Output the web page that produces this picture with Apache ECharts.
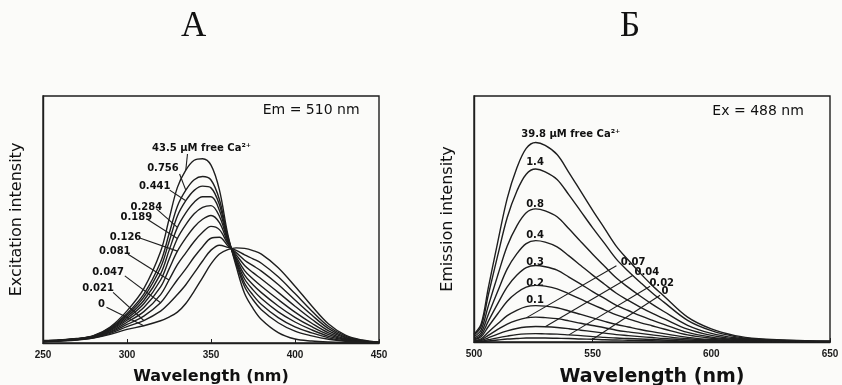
<!DOCTYPE html>
<html>
<head>
<meta charset="utf-8">
<script src="https://cdn.jsdelivr.net/npm/echarts@6/dist/echarts.min.js"></script>
<style>
  html, body { margin: 0; padding: 0; background: #fbfbf9; }
  #main { width: 842px; height: 385px; }
</style>
</head>
<body>
<div id="main"></div>
<script>
// A: excitation spectra (Em = 510 nm)
var exWavelength = [250, 260, 270, 280, 290, 300, 310, 320, 325, 330, 335, 340, 345, 350, 355, 360, 365, 370, 375, 380, 390, 400, 410, 420, 430, 440, 450];
var ex0    = [0.005, 0.008, 0.012, 0.020, 0.035, 0.055, 0.070, 0.090, 0.105, 0.125, 0.160, 0.210, 0.265, 0.320, 0.360, 0.378, 0.385, 0.383, 0.374, 0.360, 0.305, 0.230, 0.150, 0.077, 0.032, 0.012, 0.003];
var ex0021 = [0.006, 0.009, 0.013, 0.021, 0.039, 0.066, 0.091, 0.129, 0.160, 0.196, 0.236, 0.284, 0.332, 0.376, 0.396, 0.387, 0.375, 0.357, 0.341, 0.323, 0.268, 0.200, 0.130, 0.067, 0.028, 0.010, 0.003];
var ex0047 = [0.006, 0.009, 0.014, 0.023, 0.043, 0.075, 0.109, 0.163, 0.208, 0.256, 0.300, 0.348, 0.390, 0.424, 0.428, 0.394, 0.366, 0.335, 0.313, 0.291, 0.237, 0.174, 0.113, 0.058, 0.024, 0.009, 0.002];
var ex0081 = [0.007, 0.010, 0.014, 0.024, 0.046, 0.084, 0.127, 0.196, 0.255, 0.317, 0.365, 0.411, 0.448, 0.472, 0.459, 0.402, 0.357, 0.314, 0.285, 0.259, 0.205, 0.149, 0.096, 0.049, 0.021, 0.008, 0.002];
var ex0126 = [0.007, 0.010, 0.015, 0.025, 0.050, 0.092, 0.144, 0.227, 0.299, 0.372, 0.425, 0.470, 0.501, 0.516, 0.487, 0.408, 0.348, 0.293, 0.259, 0.230, 0.176, 0.125, 0.080, 0.041, 0.017, 0.007, 0.002];
var ex0189 = [0.008, 0.010, 0.016, 0.026, 0.053, 0.099, 0.159, 0.255, 0.338, 0.423, 0.479, 0.523, 0.549, 0.556, 0.513, 0.415, 0.341, 0.275, 0.236, 0.204, 0.150, 0.104, 0.066, 0.034, 0.014, 0.006, 0.001];
var ex0284 = [0.008, 0.011, 0.016, 0.027, 0.055, 0.106, 0.172, 0.280, 0.374, 0.468, 0.527, 0.570, 0.592, 0.592, 0.537, 0.420, 0.334, 0.259, 0.215, 0.180, 0.126, 0.085, 0.053, 0.027, 0.012, 0.005, 0.001];
var ex0441 = [0.009, 0.011, 0.017, 0.028, 0.058, 0.113, 0.186, 0.306, 0.409, 0.514, 0.576, 0.618, 0.635, 0.628, 0.560, 0.426, 0.327, 0.242, 0.194, 0.156, 0.103, 0.065, 0.041, 0.021, 0.009, 0.004, 0.001];
var ex0756 = [0.009, 0.011, 0.017, 0.029, 0.061, 0.119, 0.198, 0.328, 0.441, 0.554, 0.619, 0.661, 0.674, 0.660, 0.581, 0.431, 0.321, 0.228, 0.175, 0.135, 0.082, 0.048, 0.029, 0.015, 0.007, 0.003, 0.001];
var ex435  = [0.010, 0.012, 0.018, 0.030, 0.065, 0.130, 0.220, 0.370, 0.500, 0.630, 0.700, 0.740, 0.746, 0.720, 0.620, 0.440, 0.310, 0.200, 0.140, 0.095, 0.042, 0.016, 0.008, 0.004, 0.002, 0.001, 0.000];

// Б: emission spectra (Ex = 488 nm)
var emWavelength = [500, 503, 506, 510, 514, 518, 522, 526, 530, 535, 540, 545, 550, 555, 560, 565, 570, 575, 580, 590, 600, 610, 620, 630, 640, 650];
var em0    = [0.001, 0.001, 0.004, 0.008, 0.012, 0.014, 0.016, 0.016, 0.016, 0.015, 0.014, 0.012, 0.011, 0.009, 0.008, 0.007, 0.006, 0.005, 0.004, 0.002, 0.001, 0.001, 0, 0, 0, 0];
var em002  = [0.001, 0.003, 0.009, 0.017, 0.024, 0.030, 0.033, 0.034, 0.033, 0.032, 0.029, 0.026, 0.022, 0.019, 0.016, 0.014, 0.012, 0.010, 0.008, 0.004, 0.002, 0.001, 0.001, 0, 0, 0];
var em004  = [0.003, 0.006, 0.017, 0.032, 0.045, 0.055, 0.061, 0.063, 0.062, 0.059, 0.054, 0.048, 0.042, 0.036, 0.030, 0.026, 0.022, 0.018, 0.014, 0.008, 0.004, 0.002, 0.001, 0.001, 0, 0];
var em007  = [0.004, 0.009, 0.027, 0.051, 0.073, 0.088, 0.098, 0.101, 0.099, 0.095, 0.086, 0.076, 0.067, 0.058, 0.048, 0.041, 0.035, 0.029, 0.023, 0.013, 0.007, 0.003, 0.002, 0.001, 0.001, 0];
var em01   = [0.006, 0.013, 0.040, 0.074, 0.107, 0.129, 0.144, 0.148, 0.146, 0.139, 0.126, 0.112, 0.098, 0.084, 0.071, 0.061, 0.051, 0.042, 0.034, 0.019, 0.010, 0.005, 0.002, 0.001, 0.001, 0.001];
var em02   = [0.009, 0.021, 0.062, 0.115, 0.166, 0.200, 0.223, 0.230, 0.227, 0.216, 0.196, 0.174, 0.152, 0.131, 0.110, 0.094, 0.079, 0.066, 0.053, 0.029, 0.015, 0.007, 0.004, 0.002, 0.001, 0.001];
var em03   = [0.012, 0.028, 0.084, 0.156, 0.224, 0.271, 0.302, 0.311, 0.306, 0.292, 0.264, 0.235, 0.205, 0.177, 0.149, 0.128, 0.107, 0.089, 0.072, 0.039, 0.020, 0.010, 0.005, 0.003, 0.002, 0.001];
var em04   = [0.016, 0.037, 0.111, 0.206, 0.297, 0.358, 0.400, 0.412, 0.406, 0.387, 0.350, 0.311, 0.272, 0.235, 0.198, 0.169, 0.142, 0.117, 0.095, 0.052, 0.027, 0.013, 0.007, 0.004, 0.002, 0.002];
var em08   = [0.022, 0.049, 0.146, 0.271, 0.390, 0.471, 0.525, 0.541, 0.533, 0.509, 0.460, 0.408, 0.357, 0.308, 0.260, 0.222, 0.187, 0.154, 0.124, 0.068, 0.035, 0.017, 0.009, 0.005, 0.003, 0.002];
var em14   = [0.028, 0.063, 0.190, 0.352, 0.506, 0.612, 0.682, 0.703, 0.692, 0.661, 0.598, 0.531, 0.464, 0.401, 0.337, 0.288, 0.243, 0.200, 0.162, 0.088, 0.046, 0.022, 0.011, 0.007, 0.004, 0.003];
var em398  = [0.032, 0.073, 0.219, 0.406, 0.584, 0.706, 0.787, 0.811, 0.799, 0.762, 0.689, 0.612, 0.535, 0.462, 0.389, 0.333, 0.280, 0.231, 0.187, 0.101, 0.053, 0.026, 0.013, 0.008, 0.005, 0.003];

var exCurves = [ex0, ex0021, ex0047, ex0081, ex0126, ex0189, ex0284, ex0441, ex0756, ex435];
var emCurves = [em0, em002, em004, em007, em01, em02, em03, em04, em08, em14, em398];

// curve labels: text, label centre (nm, value)
var exLabels = [
  ['43.5 µM free Ca²⁺', 344.4, 0.788], ['0.756', 321.4, 0.708], ['0.441', 316.5, 0.635],
  ['0.284', 311.5, 0.547], ['0.189', 305.6, 0.510], ['0.126', 299.1, 0.427],
  ['0.081', 292.7, 0.372], ['0.047', 288.8, 0.285], ['0.021', 282.8, 0.221], ['0', 284.8, 0.155]
];
var emLabels = [
  ['39.8 µM free Ca²⁺', 540.8, 0.845], ['1.4', 525.7, 0.730], ['0.8', 525.7, 0.561],
  ['0.4', 525.7, 0.433], ['0.3', 525.7, 0.325], ['0.2', 525.7, 0.240], ['0.1', 525.7, 0.170],
  ['0.07', 567, 0.325], ['0.04', 572.8, 0.281], ['0.02', 579.1, 0.238], ['0', 580.5, 0.204]
];
// leaders: curve, wavelength where the leader meets it, leader start (nm, value)
var exLeaders = [
  [ex435, 335, 336, 0.765], [ex0756, 335, 331.3, 0.684], [ex0441, 335, 325.4, 0.619],
  [ex0284, 330, 317.5, 0.543], [ex0189, 330, 312.5, 0.499], [ex0126, 330, 307.6, 0.425],
  [ex0081, 325, 300.6, 0.359], [ex0047, 320, 298.7, 0.272], [ex0021, 310, 291.7, 0.205],
  [ex0, 310, 287.8, 0.145]
];
var emLeaders = [
  [em007, 522, 560, 0.31], [em004, 530, 567, 0.271], [em002, 540, 574.2, 0.227], [em0, 550, 578.4, 0.19]
];

var ink = '#1e1e1e';
var chart = echarts.init(document.getElementById('main'));

function pairs(xs, ys) {
  return xs.map(function (x, i) { return [x, ys[i]]; });
}

function curveSeries(xs, curves, idx) {
  return curves.map(function (ys) {
    return {
      type: 'line', xAxisIndex: idx, yAxisIndex: idx,
      data: pairs(xs, ys), smooth: 0.35, symbol: 'none', silent: true,
      lineStyle: { color: ink, width: 1.4 }
    };
  });
}

function leaderSeries(xs, leaders, idx) {
  return {
    type: 'lines', coordinateSystem: 'cartesian2d', xAxisIndex: idx, yAxisIndex: idx,
    silent: true, lineStyle: { color: ink, width: 1.1, opacity: 1 },
    data: leaders.map(function (l) {
      return { coords: [[l[2], l[3]], [l[1], l[0][xs.indexOf(l[1])]]] };
    })
  };
}

function labelSeries(labels, idx, size) {
  return {
    type: 'scatter', xAxisIndex: idx, yAxisIndex: idx, silent: true,
    symbolSize: 1, itemStyle: { color: 'rgba(0,0,0,0)', opacity: 1 },
    data: labels,
    label: {
      show: true, position: 'inside', formatter: function (p) { return p.data[0]; },
      color: '#111', opacity: 1, fontFamily: 'DejaVu Sans', fontWeight: 'bold', fontSize: size
    },
    encode: { x: 1, y: 2 }
  };
}

function noteSeries(text, x, y, idx) {
  return {
    type: 'scatter', xAxisIndex: idx, yAxisIndex: idx, silent: true,
    symbolSize: 1, itemStyle: { color: 'rgba(0,0,0,0)', opacity: 1 },
    data: [[x, y]],
    label: { show: true, position: 'inside', formatter: text, color: '#111', opacity: 1, fontFamily: 'DejaVu Sans', fontSize: 14 }
  };
}

function xAxisFor(idx, min, max, nameSize, gap) {
  return {
    type: 'value', gridIndex: idx, min: min, max: max, interval: 50,
    name: 'Wavelength (nm)', nameLocation: 'middle', nameGap: gap,
    nameTextStyle: { fontFamily: 'DejaVu Sans', fontWeight: 'bold', fontSize: nameSize, color: '#111' },
    axisLine: { show: true, lineStyle: { color: ink, width: 1.4 } },
    axisTick: { show: true, inside: true, length: 4, lineStyle: { color: ink } },
    axisLabel: { margin: 7, fontFamily: 'Liberation Sans', fontWeight: 'bold', fontSize: 10, color: '#1a1a1a' },
    splitLine: { show: false }
  };
}

function yAxisFor(idx, name) {
  return {
    type: 'value', gridIndex: idx, min: 0, max: 1,
    name: name, nameLocation: 'middle', nameGap: 18,
    nameTextStyle: { fontFamily: 'DejaVu Sans', fontSize: 16, color: '#111' },
    axisLine: { show: true, lineStyle: { color: ink, width: 1.4 } },
    axisTick: { show: false }, axisLabel: { show: false }, splitLine: { show: false }
  };
}

var option = {
  backgroundColor: '#fbfbf9',
  animation: false,
  title: [
    { text: 'А', left: 176, top: 4, textStyle: { fontFamily: 'Liberation Serif', fontSize: 35, fontWeight: 'normal', color: '#111' } },
    { text: 'Б', left: 615, top: 4, textStyle: { fontFamily: 'Liberation Serif', fontSize: 35, fontWeight: 'normal', color: '#111' } }
  ],
  grid: [
    { left: 43, top: 96, width: 336, height: 247, outerBoundsMode: 'none', show: true, borderColor: ink, borderWidth: 1.4 },
    { left: 474, top: 96, width: 356, height: 246, outerBoundsMode: 'none', show: true, borderColor: ink, borderWidth: 1.4 }
  ],
  xAxis: [xAxisFor(0, 250, 450, 16, 26), xAxisFor(1, 500, 650, 19, 26)],
  yAxis: [yAxisFor(0, 'Excitation intensity'), yAxisFor(1, 'Emission intensity')],
  series: [].concat(
    curveSeries(exWavelength, exCurves, 0),
    curveSeries(emWavelength, emCurves, 1),
    [leaderSeries(exWavelength, exLeaders, 0), leaderSeries(emWavelength, emLeaders, 1)],
    [labelSeries(exLabels, 0, 10), labelSeries(emLabels, 1, 10)],
    [noteSeries('Em = 510 nm', 409.6, 0.94, 0), noteSeries('Ex = 488 nm', 619.7, 0.939, 1)]
  )
};
chart.setOption(option);
</script>
</body>
</html>
